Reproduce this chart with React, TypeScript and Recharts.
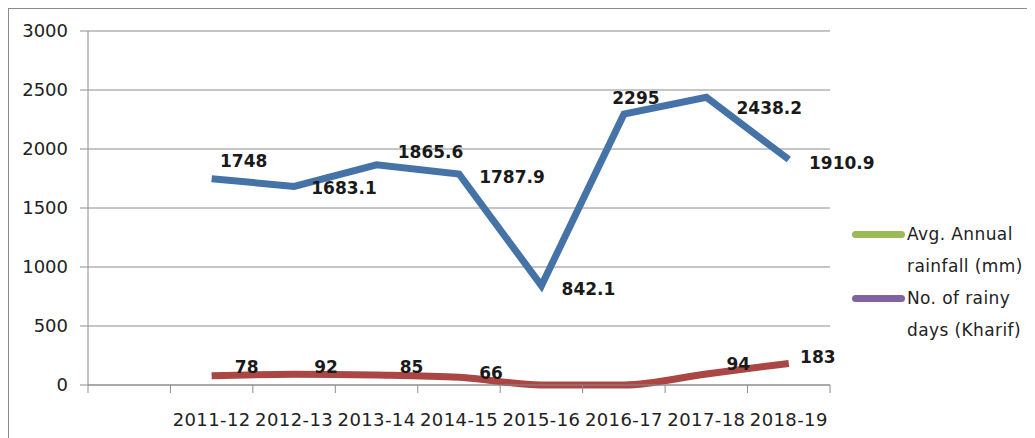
import { LineChart, Line, XAxis, YAxis, CartesianGrid, LabelList } from "recharts";

const YEARS = ["", "2011-12", "2012-13", "2013-14", "2014-15", "2015-16", "2016-17", "2017-18", "2018-19"];
const RAINFALL = [null, 1748, 1683.1, 1865.6, 1787.9, 842.1, 2295, 2438.2, 1910.9];
const RAINY_DAYS = [null, 78, 92, 85, 66, 0, 0, 94, 183];
const Y_TICKS = [0, 500, 1000, 1500, 2000, 2500, 3000];

const LEGEND_LINES = [
  ["Avg. Annual", "rainfall (mm)"],
  ["No. of rainy", "days (Kharif)"],
];
const LEGEND_COLORS = ["#9bbb59", "#8064a2"];

// label nudges (dx, dy) per point, Excel placed them by hand
const RAIN_LABEL_POS: [number, number][] = [
  [0, 0], [32, -18], [50, 2], [54, -13], [53, 3], [47, 3], [12, -16], [63, 11], [53, 3],
];
const DAYS_LABEL_POS: [number, number][] = [
  [0, 0], [35, -9], [32, -7], [35, -8], [32, -4], [0, 0], [0, 0], [32, -10], [29, -6],
];

const data = YEARS.map((year, i) => ({ year, rain: RAINFALL[i], days: RAINY_DAYS[i] }));

const FONT = "'DejaVu Sans', sans-serif";
const GRID = "#8c8c8c";
const HALF_BAND = 41.2; // half a category, ticks sit between categories like Excel

const makeLabel = (pos: [number, number][]) => (props: any) => {
  const { x, y, value, index } = props;
  if (value == null || value === 0) return null;
  const [dx, dy] = pos[index] ?? [30, -8];
  return (
    <text
      x={x + dx}
      y={y + dy}
      textAnchor="middle"
      dominantBaseline="central"
      fontFamily={FONT}
      fontWeight="bold"
      fontSize={17}
      fill="#1a1a1a"
    >
      {value}
    </text>
  );
};

const XTick = ({ x, y, payload, index }: any) => (
  <g>
    {index === 0 && <line x1={x - HALF_BAND} x2={x - HALF_BAND} y1={y} y2={y + 8} stroke={GRID} />}
    <line x1={x + HALF_BAND} x2={x + HALF_BAND} y1={y} y2={y + 8} stroke={GRID} />
    <text
      x={x}
      y={y + 34}
      textAnchor="middle"
      dominantBaseline="central"
      fontFamily={FONT}
      fontSize={18}
      letterSpacing={0.4}
      fill="#222"
    >
      {payload.value}
    </text>
  </g>
);

const LegendBox = () => (
  <div
    style={{
      position: "absolute",
      left: 843,
      top: 209,
      fontFamily: FONT,
      fontSize: 17,
      letterSpacing: 0.4,
      color: "#222",
    }}
  >
    {LEGEND_LINES.map((lines, i) => (
      <div key={i} style={{ display: "flex", alignItems: "flex-start" }}>
        <div
          style={{
            width: 53,
            height: 7,
            borderRadius: 4,
            background: LEGEND_COLORS[i],
            marginTop: 13,
            marginRight: 2,
          }}
        />
        <div style={{ lineHeight: "32px", whiteSpace: "nowrap" }}>
          {lines.map((l) => (
            <div key={l}>{l}</div>
          ))}
        </div>
      </div>
    ))}
  </div>
);

export default function App() {
  return (
    <div
      style={{
        position: "relative",
        width: 1040,
        height: 445,
        border: `1px solid ${GRID}`,
        borderRight: "none",
        background: "#fff",
      }}
    >
      <LineChart width={1030} height={440} data={data} margin={{ top: 22, right: 209, left: 0, bottom: 0 }}>
        <CartesianGrid vertical={false} stroke={GRID} />
        <XAxis
          dataKey="year"
          interval={0}
          height={64}
          padding={{ left: HALF_BAND, right: HALF_BAND }}
          tickLine={false}
          tickSize={0}
          tickMargin={0}
          axisLine={{ stroke: GRID }}
          tick={<XTick />}
        />
        <YAxis
          domain={[0, 3000]}
          ticks={Y_TICKS}
          width={79}
          tickSize={8}
          tickMargin={12}
          tickLine={{ stroke: GRID }}
          axisLine={{ stroke: GRID }}
          tick={{ fontFamily: FONT, fontSize: 18, fill: "#222" }}
        />
        <Line
          type="linear"
          dataKey="rain"
          name="Avg. Annual rainfall (mm)"
          stroke="#4572a7"
          strokeWidth={7}
          dot={false}
          isAnimationActive={false}
        >
          <LabelList dataKey="rain" content={makeLabel(RAIN_LABEL_POS)} />
        </Line>
        <Line
          type="monotone"
          dataKey="days"
          name="No. of rainy days (Kharif)"
          stroke="#aa4643"
          strokeWidth={7}
          dot={false}
          isAnimationActive={false}
        >
          <LabelList dataKey="days" content={makeLabel(DAYS_LABEL_POS)} />
        </Line>
      </LineChart>
      <LegendBox />
    </div>
  );
}
